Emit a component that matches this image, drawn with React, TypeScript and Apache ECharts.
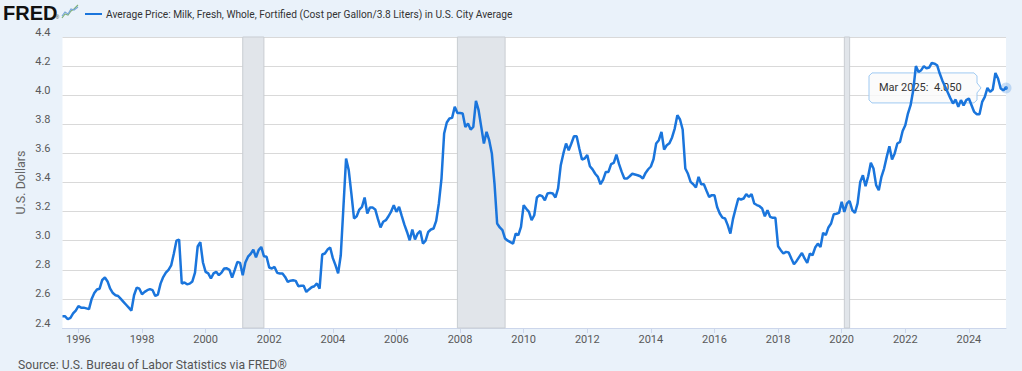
import React, { useEffect, useRef } from "react";
import * as echarts from "echarts";

const seriesName =
  "Average Price: Milk, Fresh, Whole, Fortified (Cost per Gallon/3.8 Liters) in U.S. City Average";
const sourceText = "Source: U.S. Bureau of Labor Statistics via FRED®";
const yAxisTitle = "U.S. Dollars";

// first observation: July 1995, monthly
const startYear = 1995;
const startMonth = 7;

const milkPrices = [
  // 1995 (Jul-Dec)
  2.48, 2.48, 2.46, 2.47, 2.5, 2.52,
  // 1996
  2.55, 2.54, 2.54, 2.535, 2.53, 2.6, 2.64, 2.665, 2.67, 2.73, 2.747, 2.72,
  // 1997
  2.67, 2.64, 2.625, 2.62, 2.6, 2.58, 2.56, 2.54, 2.52, 2.625, 2.678, 2.67,
  // 1998
  2.632, 2.648, 2.66, 2.667, 2.66, 2.62, 2.63, 2.705, 2.75, 2.78, 2.8, 2.83,
  // 1999
  2.91, 3.0, 3.008, 2.706, 2.713, 2.7, 2.705, 2.72, 2.78, 2.96, 2.99, 2.85,
  // 2000
  2.786, 2.775, 2.74, 2.775, 2.786, 2.763, 2.78, 2.809, 2.81, 2.8, 2.747, 2.8,
  // 2001
  2.855, 2.848, 2.763, 2.85, 2.89, 2.91, 2.939, 2.885, 2.935, 2.957, 2.893, 2.89,
  // 2002
  2.816, 2.809, 2.82, 2.779, 2.775, 2.775, 2.751, 2.717, 2.725, 2.728, 2.724, 2.687,
  // 2003
  2.69, 2.69, 2.648, 2.665, 2.68, 2.687, 2.706, 2.671, 2.905, 2.912, 2.939, 2.953,
  // 2004
  2.88, 2.832, 2.775, 2.9, 3.232, 3.565, 3.485, 3.324, 3.153, 3.168, 3.214, 3.232,
  // 2005
  3.297, 3.187, 3.228, 3.228, 3.215, 3.15, 3.091, 3.13, 3.141, 3.168, 3.2, 3.244,
  // 2006
  3.198, 3.232, 3.17, 3.11, 3.06, 3.003, 3.077, 3.008, 3.049, 3.067, 2.98, 3.0,
  // 2007
  3.06, 3.077, 3.084, 3.136, 3.256, 3.427, 3.737, 3.812, 3.84, 3.844, 3.92, 3.878,
  // 2008
  3.878, 3.874, 3.782, 3.805, 3.764, 3.782, 3.961, 3.897, 3.782, 3.668, 3.748, 3.691,
  // 2009
  3.6, 3.393, 3.118, 3.091, 3.072, 3.015, 3.0, 2.99, 2.98, 3.049, 3.038, 3.095,
  // 2010
  3.244, 3.22, 3.198, 3.141, 3.175, 3.297, 3.313, 3.306, 3.278, 3.324, 3.329, 3.324,
  // 2011
  3.297, 3.359, 3.519, 3.6, 3.668, 3.622, 3.668, 3.718, 3.718, 3.634, 3.558, 3.565,
  // 2012
  3.588, 3.512, 3.49, 3.46, 3.439, 3.388, 3.42, 3.473, 3.473, 3.526, 3.535, 3.592,
  // 2013
  3.526, 3.473, 3.427, 3.427, 3.443, 3.46, 3.455, 3.45, 3.443, 3.427, 3.466, 3.491,
  // 2014
  3.51, 3.56, 3.668, 3.691, 3.748, 3.627, 3.656, 3.67, 3.71, 3.771, 3.863, 3.833,
  // 2015
  3.764, 3.496, 3.46, 3.404, 3.388, 3.366, 3.439, 3.388, 3.388, 3.343, 3.301, 3.313,
  // 2016
  3.313, 3.232, 3.187, 3.159, 3.153, 3.107, 3.049, 3.15, 3.221, 3.29, 3.283, 3.29,
  // 2017
  3.32, 3.301, 3.32, 3.256, 3.245, 3.237, 3.221, 3.168, 3.21, 3.164, 3.157, 3.157,
  // 2018
  2.962, 2.935, 2.912, 2.923, 2.919, 2.878, 2.838, 2.861, 2.889, 2.916, 2.878, 2.848,
  // 2019
  2.912, 2.9, 2.953, 2.98, 2.957, 3.054, 3.038, 3.091, 3.118, 3.182, 3.185, 3.191,
  // 2020
  3.267, 3.198, 3.256, 3.273, 3.21, 3.191, 3.256, 3.404, 3.45, 3.375, 3.443, 3.535,
  // 2021
  3.496, 3.382, 3.347, 3.439, 3.496, 3.576, 3.649, 3.558, 3.6, 3.668, 3.679, 3.754,
  // 2022
  3.794, 3.874, 3.931, 4.034, 4.2, 4.16, 4.172, 4.2, 4.184, 4.19, 4.222, 4.217,
  // 2023
  4.206, 4.149, 4.1, 4.06, 4.02, 3.98, 3.943, 3.97, 3.92, 3.966, 3.93, 3.966,
  // 2024
  3.977, 3.931, 3.885, 3.869, 3.869, 3.954, 3.989, 4.05, 4.023, 4.039, 4.153, 4.115,
  // 2025 (Jan-Mar)
  4.046, 4.034, 4.05,
];

const recessions = [
  ["2001-03", "2001-11"],
  ["2007-12", "2009-06"],
  ["2020-02", "2020-04"],
];

const xTickYears = [
  1996, 1998, 2000, 2002, 2004, 2006, 2008, 2010, 2012, 2014, 2016, 2018, 2020, 2022, 2024,
];
const yMin = 2.4;
const yMax = 4.4;
const yStep = 0.2;

const monthNames = ["Jan", "Feb", "Mar", "Apr", "May", "Jun", "Jul", "Aug", "Sep", "Oct", "Nov", "Dec"];

const LINE = "#1a75dc";
const FONT = "Roboto, 'Noto Sans', sans-serif";

function ym(s: string) {
  const [y, m] = s.split("-").map(Number);
  return y + (m - 1) / 12;
}

export default function App() {
  const ref = useRef<HTMLDivElement>(null);

  useEffect(() => {
    document.body.style.margin = "0";
    const chart = echarts.init(ref.current as HTMLDivElement, null, { renderer: "svg" });
    const data = milkPrices.map((v, i) => [startYear + (startMonth - 1 + i) / 12, v]);
    const last = data[data.length - 1];
    const xMin = data[0][0];
    const xMax = last[0];

    chart.setOption({
      animation: false,
      backgroundColor: "#eaf2fa",
      grid: {
        left: 62.5,
        right: 16,
        top: 37,
        bottom: 43,
        show: true,
        backgroundColor: "#ffffff",
        borderWidth: 0,
      },
      xAxis: {
        type: "value",
        min: xMin,
        max: xMax,
        splitLine: { show: false },
        axisLine: { show: true, lineStyle: { color: "#ccd6eb", width: 1 } },
        axisTick: {
          show: true,
          length: 5,
          lineStyle: { color: "#ccd6eb" },
          customValues: xTickYears,
        },
        axisLabel: {
          customValues: xTickYears,
          formatter: (v: number) => String(Math.round(v)),
          color: "#595959",
          fontSize: 11,
          fontFamily: FONT,
          margin: 6,
        },
      },
      yAxis: {
        type: "value",
        min: yMin,
        max: yMax,
        interval: yStep,
        name: yAxisTitle,
        nameLocation: "middle",
        nameGap: 35.5,
        nameMoveOverlap: false,
        nameTextStyle: { color: "#666666", fontSize: 12.5, fontFamily: FONT },
        axisLine: { show: false },
        axisTick: { show: false },
        splitLine: { lineStyle: { color: "#d9d9d9", width: 1 } },
        axisLabel: {
          formatter: (v: number) => v.toFixed(1),
          color: "#595959",
          fontSize: 11,
          fontFamily: FONT,
          margin: 12,
          verticalAlign: "bottom",
          lineHeight: 10,
        },
      },
      series: [
        {
          type: "line",
          name: seriesName,
          data,
          showSymbol: false,
          lineStyle: { color: LINE, width: 2.5 },
          itemStyle: { color: LINE },
          z: 3,
          markArea: {
            silent: true,
            itemStyle: { color: "#e1e5ea", borderColor: "#c9cdd2", borderWidth: 1 },
            data: recessions.map(([a, b]) => [{ xAxis: ym(a) }, { xAxis: ym(b) }]),
          },
          markLine: {
            silent: true,
            symbol: ["none", "none"],
            label: { show: false },
            lineStyle: { color: "#2b2b2b", width: 1.6, type: "solid" },
            data: [{ xAxis: xMax }],
          },
        },
        {
          type: "scatter",
          data: [last],
          symbolSize: 11,
          itemStyle: { color: "rgba(26,117,220,0.28)" },
          z: 5,
          silent: true,
        },
        {
          type: "scatter",
          data: [last],
          symbolSize: 4,
          itemStyle: { color: LINE },
          z: 6,
          silent: true,
        },
      ],
    });

    const [px, py] = chart.convertToPixel({ gridIndex: 0 }, last) as number[];
    const lastIndex = data.length - 1;
    const mIdx = (startMonth - 1 + lastIndex) % 12;
    const yr = startYear + Math.floor((startMonth - 1 + lastIndex) / 12);
    const boxRight = px - 29;
    const boxW = 108;
    const boxH = 30;
    const boxX = boxRight - boxW;
    const boxY = py - boxH / 2;

    chart.setOption({
      graphic: [
        {
          type: "text",
          left: 3,
          top: 3,
          style: {
            text: "FRED",
            font: "bold 20px 'Liberation Sans', Arial, sans-serif",
            fill: "#111111",
          },
        },
        {
          type: "text",
          left: 55.5,
          top: 14,
          style: { text: "®", font: "5px 'Liberation Sans'", fill: "#333" },
        },
        {
          type: "polyline",
          shape: { points: [[62, 18], [65, 14], [68, 15], [71, 11], [74, 9], [78, 5]] },
          style: { stroke: "#7fb27a", lineWidth: 1.2, fill: "none" },
        },
        {
          type: "polyline",
          shape: { points: [[62, 16], [65, 12], [68, 14], [71, 9], [74, 10], [78, 7]] },
          style: { stroke: "#7aa7d8", lineWidth: 1.2, fill: "none" },
        },
        {
          type: "line",
          shape: { x1: 85, y1: 14, x2: 102, y2: 14 },
          style: { stroke: LINE, lineWidth: 2 },
        },
        {
          type: "text",
          x: 106,
          y: 14,
          style: {
            text: seriesName,
            font: `10.2px ${FONT}`,
            fill: "#333333",
            textVerticalAlign: "middle",
          },
        },
        {
          type: "text",
          x: 18,
          y: 364.5,
          style: {
            text: sourceText,
            font: `12.2px ${FONT}`,
            fill: "#555555",
            textVerticalAlign: "middle",
          },
        },
        {
          type: "group",
          z: 100,
          children: [
            {
              type: "polygon",
              shape: {
                points: [
                  [boxX + 3, boxY],
                  [boxRight - 3, boxY],
                  [boxRight, boxY + 3],
                  [boxRight, py - 5],
                  [boxRight + 4, py],
                  [boxRight, py + 5],
                  [boxRight, boxY + boxH - 3],
                  [boxRight - 3, boxY + boxH],
                  [boxX + 3, boxY + boxH],
                  [boxX, boxY + boxH - 3],
                  [boxX, boxY + 3],
                ],
              },
              style: { fill: "rgba(250,250,250,0.82)", stroke: "#9ec9f2", lineWidth: 1 },
            },
            {
              type: "text",
              x: boxX + 10,
              y: py,
              style: {
                text: `${monthNames[mIdx]} ${yr}:`,
                font: `11px ${FONT}`,
                fill: "#333333",
                textVerticalAlign: "middle",
              },
            },
            {
              type: "text",
              x: boxX + 65,
              y: py,
              style: {
                text: (last[1] as number).toFixed(3),
                font: `11px ${FONT}`,
                fill: "#333333",
                textVerticalAlign: "middle",
              },
            },
          ],
        },
      ],
    });

    return () => chart.dispose();
  }, []);

  return <div ref={ref} style={{ width: 1022, height: 371 }} />;
}
